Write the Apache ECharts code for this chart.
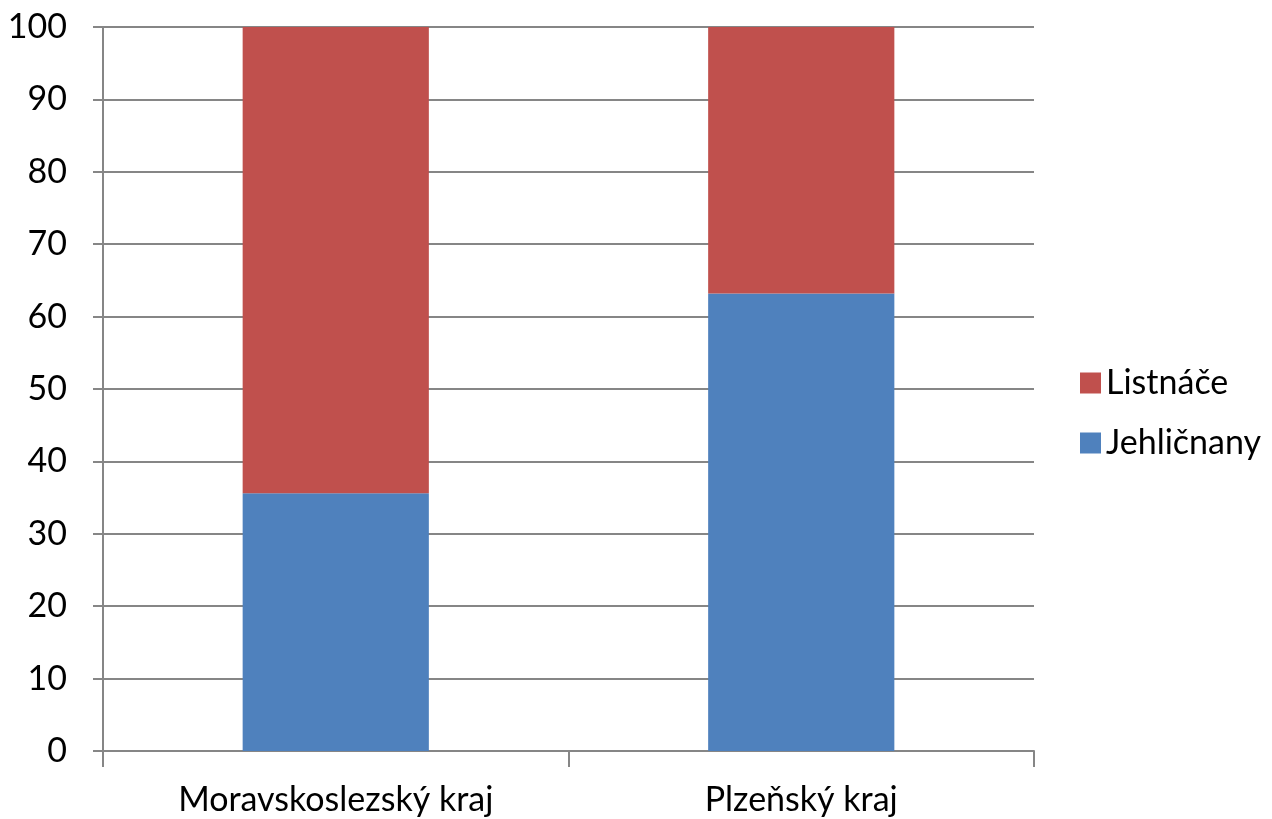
<!DOCTYPE html>
<html>
<head>
<meta charset="utf-8">
<script src="https://cdn.jsdelivr.net/npm/echarts@6/dist/echarts.min.js"></script>
<style>
  html, body { margin: 0; padding: 0; background: #ffffff; }
  #chart { width: 1272px; height: 819px; }
</style>
</head>
<body>
<div id="chart"></div>
<script>
// Share of coniferous vs. broadleaf trees by region (%)
const categories = ['Moravskoslezský kraj', 'Plzeňský kraj'];
const jehlicnany = [35.6, 63.2];
const listnace = [64.4, 36.8];
const yTicks = { min: 0, max: 100, interval: 10 };

const font = 'Lato, "Open Sans", "Liberation Sans", sans-serif';
const axisGray = '#868686';

const chart = echarts.init(document.getElementById('chart'), null, { renderer: 'canvas' });
chart.setOption({
  animation: false,
  backgroundColor: '#ffffff',
  grid: { left: 103, right: 238, top: 27, bottom: 68 },
  legend: {
    orient: 'vertical',
    left: 1075,
    top: 361,
    data: ['Listnáče', 'Jehličnany'],
    icon: 'rect',
    itemWidth: 21,
    itemHeight: 21,
    itemGap: 26,
    textStyle: { fontFamily: font, fontSize: 34, lineHeight: 34, color: '#000000', padding: [0, 0, 0, 0] }
  },
  xAxis: {
    type: 'category',
    data: categories,
    axisLine: { lineStyle: { color: axisGray, width: 2 } },
    axisTick: { show: true, length: 16, lineStyle: { color: axisGray, width: 2 } },
    axisLabel: { margin: 32, fontFamily: font, fontSize: 34, color: '#000000' }
  },
  yAxis: {
    type: 'value',
    min: yTicks.min,
    max: yTicks.max,
    interval: yTicks.interval,
    axisLine: { show: true, lineStyle: { color: axisGray, width: 2 } },
    axisTick: { show: true, length: 10, lineStyle: { color: axisGray, width: 2 } },
    axisLabel: { margin: 36, fontFamily: font, fontSize: 34, color: '#000000' },
    splitLine: { lineStyle: { color: axisGray, width: 2 } }
  },
  series: [
    {
      name: 'Jehličnany',
      type: 'bar',
      stack: 'total',
      barWidth: '40%',
      data: jehlicnany,
      itemStyle: { color: '#4f81bd' }
    },
    {
      name: 'Listnáče',
      type: 'bar',
      stack: 'total',
      barWidth: '40%',
      data: listnace,
      itemStyle: { color: '#c0504d' }
    }
  ]
});
</script>
</body>
</html>
